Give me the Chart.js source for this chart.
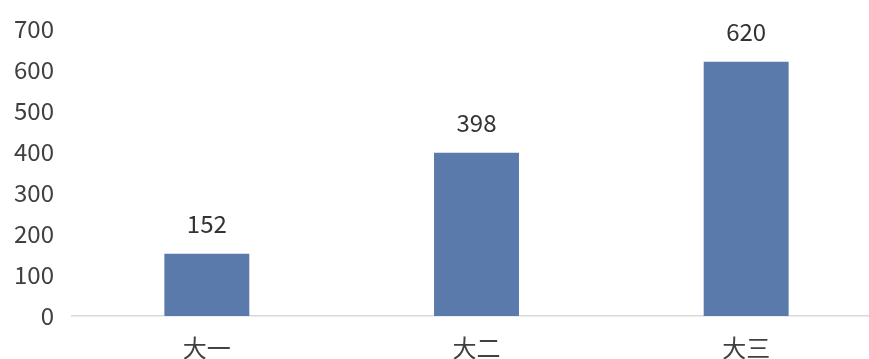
<!DOCTYPE html>
<html><head><meta charset="utf-8">
<script src="https://cdn.jsdelivr.net/npm/chart.js@4"></script>
<style>
html,body{margin:0;padding:0;background:#fff;overflow:hidden;}
#wrap{width:869px;height:359px;overflow:hidden;position:relative;}
canvas{display:block;}
</style></head>
<body>
<div id="wrap"><canvas id="c" width="882" height="363"></canvas></div>
<script>
const categories = ['大一', '大二', '大三'];
const values = [152, 398, 620];
const yTicks = [0, 100, 200, 300, 400, 500, 600, 700];

const FONT = "'Noto Sans CJK SC', 'Noto Sans', sans-serif";
const labelPlugin = {
  id: 'vlabels',
  afterDatasetsDraw(chart) {
    const ctx = chart.ctx;
    const meta = chart.getDatasetMeta(0);
    ctx.save();
    ctx.font = '24px ' + FONT;
    ctx.fillStyle = '#333333';
    ctx.textAlign = 'center';
    ctx.textBaseline = 'middle';
    meta.data.forEach((bar, i) => {
      ctx.fillText(String(values[i]), bar.x, bar.y - 30);
    });
    ctx.restore();
  }
};

new Chart(document.getElementById('c'), {
  type: 'bar',
  data: {
    labels: categories,
    datasets: [{
      data: values,
      backgroundColor: '#5a7aab',
      barPercentage: 0.315,
      categoryPercentage: 1.0
    }]
  },
  options: {
    responsive: false,
    animation: false,
    devicePixelRatio: 1,
    layout: { padding: { left: 0, right: 1, top: 29, bottom: 0 } },
    plugins: { legend: { display: false }, tooltip: { enabled: false } },
    scales: {
      x: {
        afterFit(scale) { scale.height = 47; scale.paddingLeft = 0; scale.paddingRight = 0; },
        grid: { display: false, drawTicks: false },
        border: { display: true, color: '#d9d9d9', width: 1.5 },
        ticks: { font: { size: 24, family: FONT }, color: '#404040', padding: 17 }
      },
      y: {
        min: 0, max: 700,
        afterBuildTicks(scale) { scale.ticks = yTicks.map(v => ({ value: v })); },
        afterFit(scale) { scale.width = 72; scale.paddingTop = 0; scale.paddingBottom = 0; },
        grid: { display: false, drawTicks: false },
        border: { display: false },
        ticks: { font: { size: 24, family: FONT }, color: '#404040', padding: 18 }
      }
    }
  },
  plugins: [labelPlugin]
});
</script>
</body></html>
